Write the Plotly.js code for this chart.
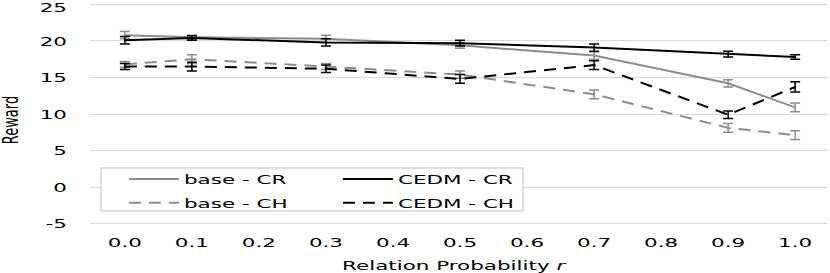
<!DOCTYPE html>
<html>
<head>
<meta charset="utf-8">
<script src="https://cdn.plot.ly/plotly-3.0.1.min.js"></script>
<style>
html, body { margin: 0; padding: 0; background: #fff; }
#chart { width: 830px; height: 273px; }
</style>
</head>
<body>
<div id="chart"></div>
<script>
const xValues = [0.0, 0.1, 0.3, 0.5, 0.7, 0.9, 1.0];
const baseCR = [20.8, 20.5, 20.3, 19.4, 18.0, 14.2, 10.9];
const baseCRErr = [0.5, 0.3, 0.5, 0.4, 0.5, 0.5, 0.6];
const cedmCR = [20.1, 20.4, 19.8, 19.7, 19.1, 18.2, 17.8];
const cedmCRErr = [0.5, 0.3, 0.5, 0.4, 0.5, 0.4, 0.3];
const baseCH = [16.8, 17.5, 16.5, 15.4, 12.7, 8.1, 7.1];
const baseCHErr = [0.4, 0.6, 0.4, 0.5, 0.6, 0.6, 0.6];
const cedmCH = [16.5, 16.5, 16.2, 14.8, 16.7, 9.9, 13.7];
const cedmCHErr = [0.4, 0.6, 0.5, 0.6, 0.6, 0.5, 0.7];
const xTickVals = [0.0, 0.1, 0.2, 0.3, 0.4, 0.5, 0.6, 0.7, 0.8, 0.9, 1.0];
const yTickVals = [-5, 0, 5, 10, 15, 20, 25];
const yTickText = ['-5', '0', '5', '10', '15', '20', '25'];
const seriesNames = ['base - CR', 'CEDM - CR', 'base - CH', 'CEDM - CH'];

const GRAY = '#8c8c8c';
const BLACK = '#000000';
const FONT = 'DejaVu Sans, Verdana, sans-serif';

function mk(name, y, err, color, dash, group) {
  return {
    type: 'scatter', mode: 'lines', name: name, legendgroup: group,
    x: xValues, y: y,
    line: { color: color, width: 2, dash: dash },
    error_y: { type: 'data', array: err, visible: true, color: color, thickness: 1.5, width: 5 }
  };
}

const traces = [
  mk(seriesNames[0], baseCR, baseCRErr, GRAY, 'solid', 'base'),
  mk(seriesNames[1], cedmCR, cedmCRErr, BLACK, 'solid', 'cedm'),
  mk(seriesNames[2], baseCH, baseCHErr, GRAY, '12px,8px', 'base'),
  mk(seriesNames[3], cedmCH, cedmCHErr, BLACK, '12px,8px', 'cedm')
];

const layout = {
  width: 830, height: 273,
  margin: { l: 90, r: 2, t: 3, b: 48 },
  paper_bgcolor: '#ffffff', plot_bgcolor: '#ffffff',
  font: { family: FONT, size: 13, color: '#000' },
  showlegend: true,
  legend: {
    x: 0.046, y: 0.2748,
    xanchor: 'left', yanchor: 'top',
    orientation: 'h', traceorder: 'grouped',
    entrywidth: 149, entrywidthmode: 'pixels',
    tracegroupgap: 0,
    itemwidth: 50,
    bgcolor: 'rgba(0,0,0,0)', borderwidth: 0,
    font: { family: FONT, size: 13, color: '#000000' }
  },
  shapes: [{
    type: 'rect', xref: 'paper', yref: 'paper',
    x0: 0.0149, x1: 0.5867, y0: 0.0631, y1: 0.2568,
    fillcolor: '#ffffff', line: { color: '#bfbfbf', width: 1 }, layer: 'above'
  }],
  xaxis: {
    range: [-0.052, 1.049],
    tickvals: xTickVals, tickformat: '.1f',
    showgrid: false, zeroline: false, showline: false, ticks: '',
    ticklabelstandoff: 8,
    tickfont: { family: FONT, size: 13, color: '#000' },
    title: { text: 'Relation Probability <i>r</i>', font: { family: FONT, size: 13, color: '#000' } },
    fixedrange: true
  },
  yaxis: {
    range: [-5.2, 25.2],
    tickvals: yTickVals, ticktext: yTickText,
    ticklabeloverflow: 'allow',
    showgrid: true, gridcolor: '#d9d9d9', gridwidth: 1,
    zeroline: false, showline: false, ticks: '',
    ticklabelstandoff: 22,
    tickfont: { family: FONT, size: 13, color: '#000' },
    title: { text: 'Reward', font: { family: FONT, size: 13, color: '#000' } },
    fixedrange: true
  }
};

const STRETCH = 1.65;

function moveCenter(el, cx, cy) {
  const svg = el.ownerSVGElement;
  const sb = svg.getBoundingClientRect();
  const b = el.getBoundingClientRect();
  const dx = (cx === null) ? 0 : cx - (b.left - sb.left + b.width / 2);
  const dy = cy - (b.top - sb.top + b.height / 2);
  if (Math.abs(dx) < 0.3 && Math.abs(dy) < 0.3) return;
  const tr = el.getAttribute('transform') || '';
  el.setAttribute('transform', 'translate(' + dx.toFixed(2) + ',' + dy.toFixed(2) + ') ' + tr);
}

function stretchText() {
  const gd = document.getElementById('chart');
  const sel = '.xtick text, .ytick text, .legendtext, .g-xtitle text';
  gd.querySelectorAll(sel).forEach(function (t) {
    if (t.getAttribute('data-stretched')) return;
    const w = t.getComputedTextLength();
    if (w > 0) {
      t.setAttribute('textLength', (w * STRETCH).toFixed(2));
      t.setAttribute('lengthAdjust', 'spacingAndGlyphs');
      t.setAttribute('data-stretched', '1');
    }
  });
  // second legend row sits a little lower in the reference
  gd.querySelectorAll('.legend .traces').forEach(function (g) {
    if (g.getAttribute('data-moved')) return;
    const txt = g.querySelector('.legendtext');
    if (txt && /CH$/.test(txt.textContent.trim())) {
      g.setAttribute('transform', 'translate(0,4) ' + (g.getAttribute('transform') || ''));
      g.setAttribute('data-moved', '1');
    }
  });
  gd.querySelectorAll('.ytick text').forEach(function (t) {
    if (t.textContent.trim() === '25') moveCenter(t, null, 7);
  });
  const yt = gd.querySelector('.g-ytitle text');
  if (yt) {
    if (!yt.getAttribute('data-stretched')) {
      const x = parseFloat(yt.getAttribute('x')) || 0;
      const y = parseFloat(yt.getAttribute('y')) || 0;
      const tr = yt.getAttribute('transform') || '';
      yt.setAttribute('transform', 'translate(' + x + ',' + y + ') scale(' + STRETCH + ',1) translate(' + (-x) + ',' + (-y) + ') ' + tr);
      yt.setAttribute('data-stretched', '1');
    }
    moveCenter(yt, 11, 120);
  }
  const xt = gd.querySelector('.g-xtitle text');
  if (xt) moveCenter(xt, 455, 265);
}

Plotly.newPlot('chart', traces, layout, { staticPlot: true, displayModeBar: false }).then(function (gd) {
  stretchText();
  gd.on('plotly_afterplot', stretchText);
  setTimeout(stretchText, 30);
  setTimeout(stretchText, 150);
});
</script>
</body>
</html>
